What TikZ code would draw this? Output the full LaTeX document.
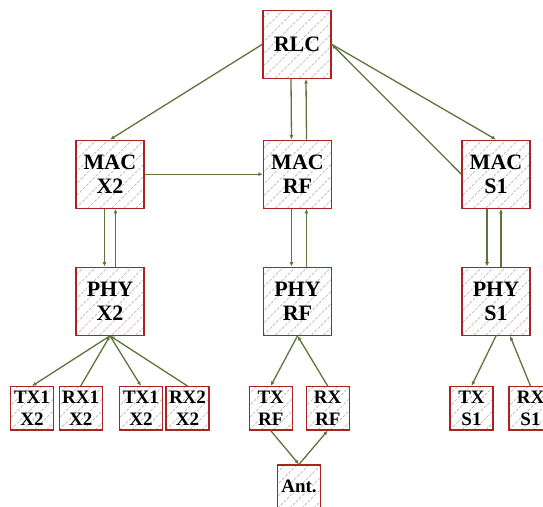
\documentclass[tikz,border=0pt]{standalone}
\usepackage{fontspec}
\setmainfont{Liberation Serif}[BoldFont={Liberation Serif Bold}]
\newfontfamily\boxfont{Liberation Serif Bold}
\usetikzlibrary{arrows.meta,calc}
\definecolor{boxred}{RGB}{170,35,35}
\definecolor{arrgreen}{RGB}{95,115,60}
\definecolor{hatchgray}{RGB}{185,185,185}
\tikzset{
  hatched/.style={path picture={
    \foreach \i in {-132,-120,...,132} {
      \draw[hatchgray, line width=0.7pt, dash pattern=on 3pt off 1.5pt]
        ($(path picture bounding box.south west)+(\i pt,0pt)$) -- ++(140pt,140pt);
    }}},
  bigbox/.style={draw=boxred, line width=1.3pt, hatched, minimum width=68pt,
    minimum height=68pt, inner sep=0pt, align=center,
    font=\boxfont\fontsize{22}{24.4}\selectfont},
  smallbox/.style={draw=boxred, line width=1.3pt, hatched, minimum width=43pt,
    minimum height=43.3pt, inner sep=0pt, align=center,
    font=\boxfont\fontsize{19}{22.7}\selectfont},
  conn/.style={draw=arrgreen, line width=1.3pt, -{Latex[length=4.5pt,width=4pt]}},
}
\begin{document}
\begin{tikzpicture}[x=1pt,y=-1pt]
\useasboundingbox (0,0) rectangle (543,506);
\clip (0,0) rectangle (543,506);
% top
\node[bigbox] (rlc) at (297,44.3) {RLC};
% MAC row
\node[bigbox] (macx2) at (110,174.2) {MAC\\X2};
\node[bigbox] (macrf) at (297.5,174.2) {MAC\\RF};
\node[bigbox] (macs1) at (496,174.2) {MAC\\S1};
% PHY row
\node[bigbox] (phyx2) at (110,301.2) {PHY\\X2};
\node[bigbox] (phyrf) at (297.5,301.2) {PHY\\RF};
\node[bigbox] (phys1) at (496,301.2) {PHY\\S1};
% leaves
\node[smallbox] (tx1a) at (32,408.3) {TX1\\X2};
\node[smallbox] (rx1) at (80.7,408.3) {RX1\\X2};
\node[smallbox] (tx1b) at (141,408.3) {TX1\\X2};
\node[smallbox] (rx2) at (187.5,408.3) {RX2\\X2};
\node[smallbox] (txrf) at (270.7,408.3) {TX\\RF};
\node[smallbox] (rxrf) at (327.7,408.3) {RX\\RF};
\node[smallbox] (txs1) at (471.5,408.3) {TX\\S1};
\node[smallbox] (rxs1) at (530.5,408.3) {RX\\S1};
\node[smallbox] (ant) at (299,486.7) {Ant.};
% connectors
\draw[conn] (rlc.west) -- (macx2.north);
\draw[conn] ([xshift=-6pt]rlc.south) -- ([xshift=-6pt]macrf.north);
\draw[conn] ([xshift=9pt]macrf.north) -- ([xshift=9pt]rlc.south);
\draw[conn] (rlc.east) -- (macs1.north);
\draw[conn] (macs1.west) -- (rlc.east);
\draw[conn] (macx2.east) -- (macrf.west);
\draw[conn] ([xshift=-5.5pt]macx2.south) -- ([xshift=-5.5pt]phyx2.north);
\draw[conn] ([xshift=5.5pt]phyx2.north) -- ([xshift=5.5pt]macx2.south);
\draw[conn] ([xshift=-6pt]macrf.south) -- ([xshift=-6pt]phyrf.north);
\draw[conn] ([xshift=9pt]phyrf.north) -- ([xshift=9pt]macrf.south);
\draw[conn] ([xshift=-9pt]macs1.south) -- ([xshift=-9pt]phys1.north);
\draw[conn] ([xshift=5pt]phys1.north) -- ([xshift=5pt]macs1.south);
\draw[conn] (phyx2.south) -- (tx1a.north);
\draw[conn] (rx1.north) -- (phyx2.south);
\draw[conn] (phyx2.south) -- (tx1b.north);
\draw[conn] (rx2.north) -- (phyx2.south);
\draw[conn] (phyrf.south) -- (txrf.north);
\draw[conn] (rxrf.north) -- (phyrf.south);
\draw[conn] (txrf.south) -- (ant.north);
\draw[conn] (ant.north) -- (rxrf.south);
\draw[conn] (phys1.south) -- (txs1.north);
\draw[conn] (rxs1.north) -- ([xshift=14pt]phys1.south);
\end{tikzpicture}
\end{document}
